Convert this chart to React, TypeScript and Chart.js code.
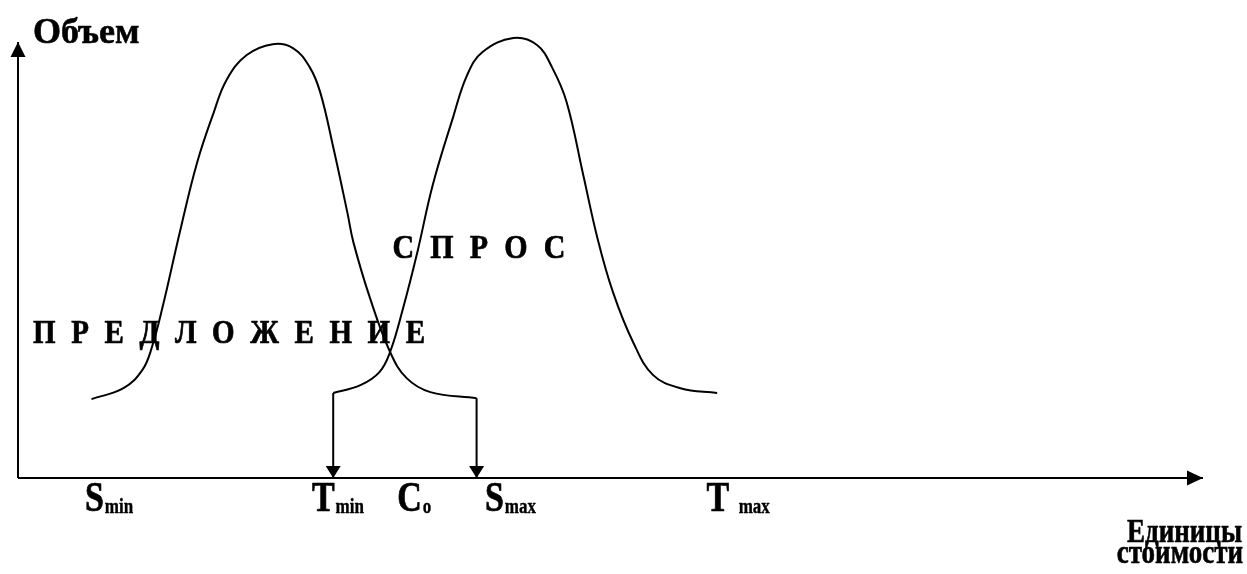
import React, { useEffect, useRef } from "react";
import { Chart, registerables } from "chart.js";

Chart.register(...registerables);

// ---- Data (abstract units: x = cost units 0..100, y = volume 0..100) ----
const supplyX = [6.2, 8.9, 10.5, 11.3, 12.2, 13.7, 15.1, 16.5, 17.6, 19.3, 21.5, 23.2, 24.6, 25.5, 26.6, 27.8, 28.3, 29.7, 31.4, 32.8, 34.8, 38.7];
const supplyY = [18.1, 20.6, 24.8, 30.0, 39.2, 56.9, 72.2, 83.7, 91.3, 97.0, 99.5, 98.6, 94.3, 88.5, 75.9, 60.8, 54.1, 41.3, 28.9, 22.9, 19.7, 18.3];

const demandX = [26.6, 28.9, 30.5, 31.4, 32.5, 33.7, 35.0, 36.7, 37.9, 39.2, 41.8, 43.8, 45.1, 46.3, 47.7, 48.9, 50.2, 51.9, 53.6, 55.9, 59.0];
const demandY = [19.5, 21.3, 24.3, 28.9, 39.0, 51.8, 67.2, 82.6, 92.4, 97.7, 100.9, 99.3, 94.0, 86.2, 69.5, 55.0, 42.7, 31.2, 23.6, 20.6, 19.5];

const tickValues = [5.65, 24.8, 32.0, 39.4, 58.1];
const tickMain = ["S", "T", "C", "S", "T"];
const tickSub = ["min", "min", "o", "max", "\u2002max"];

const supplyLabel = "П Р Е Д Л О Ж Е Н И Е";
const demandLabel = "С П Р О С";
const yTitle = "Объем";
const xTitleLines = ["Единицы", "стоимости"];

const xRange = [0, 100];
const yRange = [0, 100];

// ---- Drawing helpers ----
const SERIF = '"Liberation Serif", "Times New Roman", serif';

function drawText(
  ctx: CanvasRenderingContext2D,
  text: string,
  x: number,
  y: number,
  size: number,
  sy: number,
  align: CanvasTextAlign = "left",
  targetWidth = 0,
  weight = 0.6
) {
  ctx.save();
  ctx.font = `bold ${size}px ${SERIF}`;
  ctx.fillStyle = "#000";
  ctx.strokeStyle = "#000";
  ctx.lineWidth = weight;
  ctx.lineJoin = "round";
  ctx.textBaseline = "alphabetic";
  ctx.translate(x, y);
  ctx.scale(1, sy);
  const put = (t: string, px: number) => {
    ctx.fillText(t, px, 0);
    if (weight > 0) ctx.strokeText(t, px, 0);
  };
  if (targetWidth > 0) {
    const chars = Array.from(text);
    const widths = chars.map((c) => ctx.measureText(c).width);
    const total = widths.reduce((s, w) => s + w, 0);
    const gap = (targetWidth - total) / (chars.length - 1);
    let cx = 0;
    ctx.textAlign = "left";
    chars.forEach((c, i) => {
      put(c, cx);
      cx += widths[i] + gap;
    });
  } else {
    ctx.textAlign = align;
    put(text, 0);
  }
  ctx.restore();
}

const arrowPlugin = {
  id: "arrowHeads",
  afterDatasetsDraw(chart: any) {
    const ctx: CanvasRenderingContext2D = chart.ctx;
    chart.data.datasets.forEach((ds: any, i: number) => {
      if (!ds.arrowLen) return;
      const pts = chart.getDatasetMeta(i).data;
      const a = pts[pts.length - 2];
      const b = pts[pts.length - 1];
      const ang = Math.atan2(b.y - a.y, b.x - a.x);
      const L = ds.arrowLen;
      const W = ds.arrowHalf;
      const c = Math.cos(ang);
      const s = Math.sin(ang);
      ctx.save();
      ctx.fillStyle = "#000";
      ctx.beginPath();
      ctx.moveTo(b.x, b.y);
      ctx.lineTo(b.x - L * c + W * s, b.y - L * s - W * c);
      ctx.lineTo(b.x - L * c - W * s, b.y - L * s + W * c);
      ctx.closePath();
      ctx.fill();
      ctx.restore();
    });
  },
};

const textPlugin = {
  id: "diagramText",
  afterDraw(chart: any) {
    const ctx: CanvasRenderingContext2D = chart.ctx;
    const xs = chart.scales.x;
    const ys = chart.scales.y;
    const area = chart.chartArea;

    // y title
    drawText(ctx, yTitle, area.left + 15, area.top + 1, 36, 1.0);

    // curve labels
    drawText(ctx, supplyLabel, xs.getPixelForValue(1.27), ys.getPixelForValue(31.0), 29, 1.15, "left", 392);
    drawText(ctx, demandLabel, xs.getPixelForValue(31.6), ys.getPixelForValue(50.5), 30, 1.15, "left", 173);

    // tick labels
    const base = area.bottom + 33;
    tickValues.forEach((v, i) => {
      const px = xs.getPixelForValue(v);
      ctx.save();
      ctx.font = `bold 34px ${SERIF}`;
      const w = ctx.measureText(tickMain[i]).width;
      ctx.restore();
      drawText(ctx, tickMain[i], px, base, 34, 1.22);
      drawText(ctx, tickSub[i], px + w + 1, base + 2, 17, 1.2, "left", 0, 0.3);
    });

    // x title (right aligned, two lines)
    drawText(ctx, xTitleLines[0], chart.width - 5, area.bottom + 64, 27, 1.26, "right", 0, 0.5);
    drawText(ctx, xTitleLines[1], chart.width - 4, area.bottom + 85, 27, 1.26, "right", 0, 0.5);
  },
};

const lineStyle = {
  borderColor: "#000",
  borderWidth: 2,
  pointRadius: 0,
  fill: false,
  clip: false as any,
};

export default function App() {
  const ref = useRef<HTMLCanvasElement | null>(null);

  useEffect(() => {
    if (!ref.current) return;
    const supply = supplyX.map((x, i) => ({ x, y: supplyY[i] }));
    const demand = demandX.map((x, i) => ({ x, y: demandY[i] }));
    const sEnd = supply[supply.length - 1];
    const dStart = demand[0];

    const chart = new Chart(ref.current, {
      type: "line",
      data: {
        datasets: [
          { ...lineStyle, label: "Предложение", data: supply, tension: 0.4 },
          { ...lineStyle, label: "Спрос", data: demand, tension: 0.4 },
          { ...lineStyle, label: "T min", data: [dStart, { x: dStart.x, y: yRange[0] }], arrowLen: 12, arrowHalf: 7.5 } as any,
          { ...lineStyle, label: "S max", data: [sEnd, { x: sEnd.x, y: yRange[0] }], arrowLen: 12, arrowHalf: 7.5 } as any,
          { ...lineStyle, label: "x axis", data: [{ x: xRange[0], y: yRange[0] }, { x: xRange[1], y: yRange[0] }], arrowLen: 16, arrowHalf: 7.5 } as any,
          { ...lineStyle, label: "y axis", data: [{ x: xRange[0], y: yRange[0] }, { x: xRange[0], y: yRange[1] }], arrowLen: 15, arrowHalf: 7.5 } as any,
        ],
      },
      options: {
        responsive: false,
        animation: false,
        layout: { padding: { left: 18, right: 44, top: 42, bottom: 96 } },
        scales: {
          x: { type: "linear", min: xRange[0], max: xRange[1], display: false },
          y: { type: "linear", min: yRange[0], max: yRange[1], display: false },
        },
        plugins: { legend: { display: false }, tooltip: { enabled: false } },
        elements: { point: { radius: 0 } },
      },
      plugins: [arrowPlugin, textPlugin],
    });
    return () => chart.destroy();
  }, []);

  return (
    <div style={{ position: "fixed", left: 0, top: 0, width: 1247, height: 574, background: "#fff" }}>
      <canvas ref={ref} width={1247} height={574} style={{ display: "block" }} />
    </div>
  );
}
